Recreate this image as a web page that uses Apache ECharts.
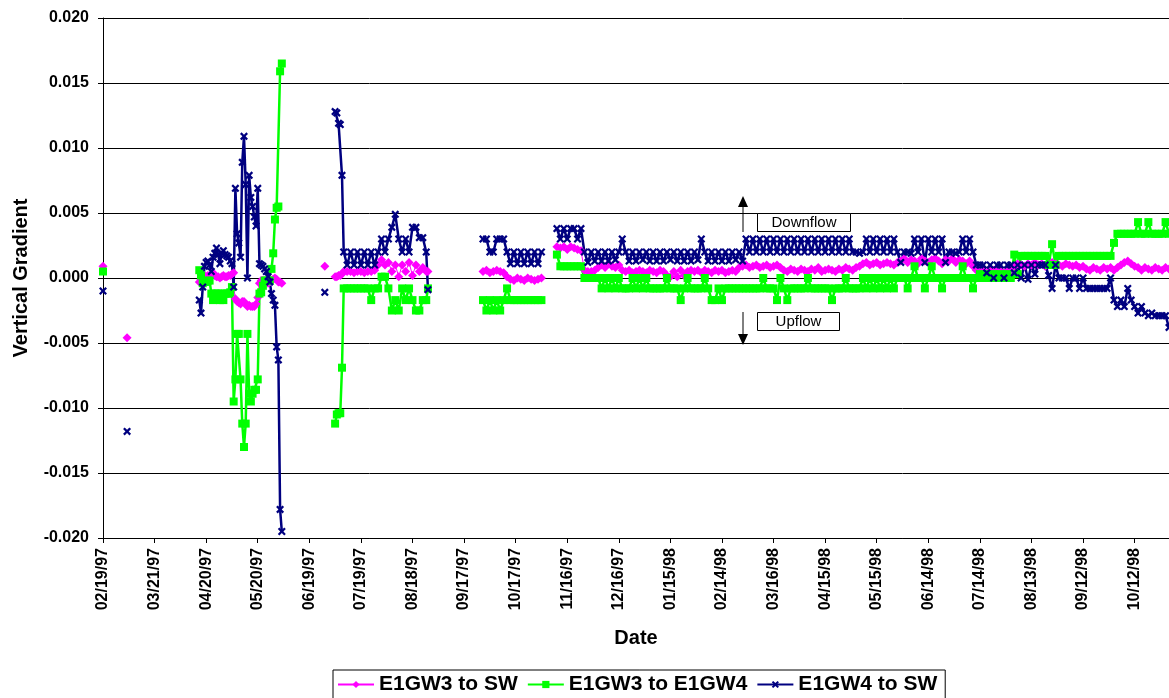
<!DOCTYPE html>
<html>
<head>
<meta charset="utf-8">
<script src="https://cdn.jsdelivr.net/npm/echarts@6/dist/echarts.min.js"></script>
<style>
html,body{margin:0;padding:0;background:#fff;}
#chart{width:1169px;height:698px;}
</style>
</head>
<body>
<div id="chart"></div>
<script>
// ---- Tick labels (every 30 days from 02/19/97) ----
const tickLabels = ['02/19/97','03/21/97','04/20/97','05/20/97','06/19/97','07/19/97','08/18/97',
  '09/17/97','10/17/97','11/16/97','12/16/97','01/15/98','02/14/98','03/16/98','04/15/98',
  '05/15/98','06/14/98','07/14/98','08/13/98','09/12/98','10/12/98'];

// x values are days since 02/19/97
// ---- Isolated early readings ----
const isoDays = [0, 14, 129];
const isoMag = [0.0009, -0.0046, 0.0009];
const isoGrn = [0.0005, null, null];
const isoNav = [-0.0010, -0.0118, -0.0011];

// ---- Period 1 (Apr-May 1997) ----
const r1Days = [56,57,58,59,60,61,62,63,64,65,66,67,68,69,70,71,72,73,74,75,76,77,78,79,80,
  81,82,83,84,85,86,87,88,89,90,91,92,93,94,95,96,97,98,99,100,101,102,103,104];
const r1Mag = [-.0003,-.0001,.0001,.0002,.0001,.0002,.0001,.0003,.0004,.0002,.0001,.0001,.0000,.0001,.0002,
  .0001,.0001,.0002,.0002,.0003,.0004,-.0016,-.0018,-.0019,-.0020,-.0018,-.0018,-.0020,-.0022,-.0021,
  -.0022,-.0022,-.0022,-.0020,-.0015,-.0004,-.0002,-.0002,-.0003,-.0002,-.0004,-.0003,-.0002,-.0001,.0000,
  -.0001,-.0003,-.0003,-.0004];
const r1Grn = [.0006,.0002,-.0004,-.0003,-.0003,-.0002,-.0002,-.0012,-.0017,-.0012,-.0012,-.0012,-.0017,-.0012,-.0017,
  -.0012,-.0012,-.0012,-.0011,-.0007,-.0095,-.0078,-.0043,-.0043,-.0078,-.0112,-.0130,-.0112,-.0043,-.0089,
  -.0095,-.0089,-.0086,-.0086,-.0078,-.0012,-.0011,-.0006,-.0002,-.0002,-.0002,-.0002,.0007,.0019,.0045,
  .0054,.0055,.0159,.0165];
const r1Nav = [-.0017,-.0027,-.0007,.0009,.0012,.0013,.0010,.0005,.0016,.0019,.0023,.0018,.0011,.0019,.0021,
  .0018,.0017,.0016,.0013,.0011,-.0007,.0069,.0034,.0027,.0016,.0089,.0109,.0072,.0000,.0079,
  .0062,.0055,.0047,.0040,.0069,.0011,.0010,.0009,.0007,.0005,.0001,-.0003,-.0012,-.0017,-.0021,
  -.0053,-.0063,-.0178,-.0195];

// ---- Period 2 (Jul-Aug 1997) ----
const r2Days = [135,136,137,138,139,140,142,144,146,148,150,152,154,156,158,160,162,164,166,168,
  170,172,174,176,178,180,182,184,186,188,189];
const r2Mag = [.0001,.0001,.0002,.0002,.0003,.0005,.0005,.0005,.0004,.0005,.0005,.0004,.0005,.0005,.0006,
  .0010,.0014,.0010,.0012,.0005,.0010,.0001,.0010,.0005,.0012,.0002,.0010,.0005,.0008,.0005,.0005];
const r2Grn = [-.0112,-.0105,-.0104,-.0104,-.0069,-.0008,-.0008,-.0008,-.0008,-.0008,-.0008,-.0008,-.0008,-.0017,-.0008,
  -.0008,.0001,.0001,-.0008,-.0025,-.0017,-.0025,-.0008,-.0017,-.0008,-.0017,-.0025,-.0025,-.0017,-.0017,-.0008];
const r2Nav = [.0128,.0127,.0119,.0118,.0079,.0020,.0010,.0020,.0010,.0020,.0010,.0020,.0010,.0020,.0010,
  .0020,.0030,.0020,.0030,.0039,.0049,.0030,.0020,.0030,.0020,.0039,.0039,.0031,.0031,.0020,-.0009];

// ---- Period 3 (Sep-Oct 1997) ----
const r3Days = [221,223,225,227,229,231,233,235,237,239,241,243,245,247,249,251,253,255];
const r3Mag = [.0005,.0006,.0004,.0005,.0006,.0005,.0004,.0001,-.0001,-.0002,.0000,-.0001,-.0002,.0000,-.0001,-.0002,-.0001,.0000];
const r3Grn = [-.0017,-.0025,-.0017,-.0025,-.0017,-.0025,-.0017,-.0008,-.0017,-.0017,-.0017,-.0017,-.0017,-.0017,-.0017,-.0017,-.0017,-.0017];
const r3Nav = [.0030,.0030,.0020,.0020,.0030,.0030,.0030,.0020,.0011,.0020,.0011,.0020,.0011,.0020,.0011,.0020,.0011,.0020];

// ---- Period 4 (Nov 1997 - Oct 1998) ----
const r4Days = [264,266,268,270,272,274,276,278,280,282, 284,286,288,290,292,294,296,298,300,302,
  304,306,308,310,312,314,316,318,320,322, 324,326,328,330,332,334,336,338,340,342,
  344,346,348,350,352,354,356,358,360,362, 364,366,368,370,372,374,376,378,380,382,
  384,386,388,390,392,394,396,398,400,402, 404,406,408,410,412,414,416,418,420,422,
  424,426,428,430,432,434,436,438,440,442, 444,446,448,450,452,454,456,458,460,462,
  464,466,468,470,472,474,476,478,480,482, 484,486,488,490,492,494,496,498,500,502,
  504,506,508,510,512,514,516,518,520,522, 524,526,528,530,532,534,536,538,540,542,
  544,546,548,550,552,554,556,558,560,562, 564,566,568,570,572,574,576,578,580,582,
  584,586,588,590,592,594,596,598,600,602, 604,606,608,610,612,614,616,618,620];
const r4Mag = [
  .0024,.0023,.0024,.0022,.0024,.0023,.0022,.0021,.0006,.0005,
  .0005,.0006,.0008,.0010,.0008,.0011,.0009,.0008,.0010,.0006,
  .0005,.0006,.0004,.0005,.0006,.0005,.0004,.0006,.0005,.0004,
  .0006,.0005,.0002,.0001,.0005,.0001,.0006,.0002,.0005,.0006,
  .0005,.0006,.0004,.0006,.0005,.0004,.0006,.0005,.0006,.0004,
  .0005,.0006,.0005,.0008,.0009,.0010,.0008,.0009,.0010,.0008,
  .0009,.0010,.0008,.0009,.0010,.0008,.0006,.0005,.0007,.0006,
  .0005,.0007,.0006,.0005,.0007,.0006,.0008,.0005,.0006,.0007,
  .0006,.0005,.0007,.0006,.0008,.0007,.0006,.0008,.0009,.0011,
  .0012,.0010,.0011,.0012,.0010,.0011,.0012,.0011,.0010,.0012,
  .0013,.0015,.0012,.0014,.0013,.0011,.0015,.0013,.0012,.0014,
  .0015,.0013,.0011,.0014,.0013,.0015,.0012,.0014,.0013,.0011,
  .0013,.0009,.0006,.0005,.0005,.0004,.0005,.0006,.0005,.0005,
  .0004,.0005,.0006,.0009,.0011,.0010,.0009,.0011,.0010,.0012,
  .0010,.0011,.0009,.0010,.0012,.0011,.0010,.0009,.0011,.0010,
  .0009,.0010,.0008,.0009,.0007,.0006,.0008,.0007,.0006,.0008,
  .0007,.0008,.0006,.0008,.0010,.0012,.0013,.0011,.0009,.0008,
  .0006,.0008,.0007,.0006,.0008,.0007,.0006,.0008,.0007];
const r4Grn = [
  .0018,.0009,.0009,.0009,.0009,.0009,.0009,.0009,.0000,.0000,
  .0000,.0000,.0000,-.0008,.0000,-.0008,.0000,-.0008,.0000,-.0008,
  -.0008,-.0008,.0000,-.0008,.0000,-.0008,.0000,-.0008,-.0008,-.0008,
  -.0008,-.0008,.0000,-.0008,-.0008,-.0008,-.0017,-.0008,.0000,-.0008,
  -.0008,-.0008,-.0008,.0000,-.0008,-.0017,-.0017,-.0008,-.0017,-.0008,
  -.0008,-.0008,-.0008,-.0008,-.0008,-.0008,-.0008,-.0008,-.0008,-.0008,
  .0000,-.0008,-.0008,-.0008,-.0017,.0000,-.0008,-.0017,-.0008,-.0008,
  -.0008,-.0008,-.0008,.0000,-.0008,-.0008,-.0008,-.0008,-.0008,-.0008,
  -.0017,-.0008,-.0008,-.0008,.0000,-.0008,-.0008,-.0008,-.0008,.0000,
  -.0008,.0000,-.0008,.0000,-.0008,.0000,-.0008,.0000,-.0008,.0000,
  .0000,.0000,-.0008,.0000,.0009,.0000,.0000,-.0008,.0000,.0009,
  .0000,.0000,-.0008,.0000,.0000,.0000,.0000,.0000,.0009,.0000,
  .0000,-.0008,.0000,.0003,.0000,.0003,.0000,.0003,.0000,.0003,
  .0000,.0003,.0000,.0018,.0003,.0017,.0017,.0017,.0017,.0017,
  .0017,.0017,.0017,.0010,.0026,.0010,.0017,.0017,.0017,.0017,
  .0017,.0017,.0017,.0017,.0017,.0017,.0017,.0017,.0017,.0017,
  .0017,.0017,.0027,.0034,.0034,.0034,.0034,.0034,.0034,.0043,
  .0034,.0034,.0043,.0034,.0034,.0034,.0034,.0043,.0034];
const r4Nav = [
  .0038,.0030,.0038,.0030,.0038,.0038,.0030,.0038,.0020,.0012,
  .0020,.0013,.0020,.0013,.0020,.0013,.0020,.0014,.0020,.0030,
  .0020,.0013,.0020,.0013,.0020,.0014,.0020,.0013,.0020,.0013,
  .0020,.0013,.0020,.0014,.0020,.0013,.0020,.0013,.0020,.0013,
  .0020,.0014,.0030,.0020,.0013,.0020,.0013,.0020,.0013,.0020,
  .0013,.0020,.0014,.0020,.0013,.0030,.0020,.0030,.0020,.0030,
  .0020,.0030,.0020,.0030,.0020,.0030,.0020,.0030,.0020,.0030,
  .0020,.0030,.0020,.0030,.0020,.0030,.0020,.0030,.0020,.0030,
  .0020,.0030,.0020,.0030,.0020,.0030,.0020,.0020,.0019,.0020,
  .0030,.0020,.0030,.0020,.0030,.0020,.0030,.0020,.0030,.0020,
  .0012,.0020,.0020,.0019,.0030,.0020,.0030,.0012,.0030,.0020,
  .0030,.0020,.0030,.0012,.0020,.0020,.0019,.0020,.0030,.0020,
  .0030,.0020,.0010,.0010,.0010,.0004,.0010,.0000,.0010,.0010,
  .0000,.0010,.0010,.0004,.0010,.0000,.0010,-.0001,.0010,.0003,
  .0010,.0010,.0010,.0002,-.0008,.0010,.0000,.0000,.0000,-.0008,
  .0000,.0000,-.0008,.0000,-.0008,-.0008,-.0008,-.0008,-.0008,-.0008,
  -.0008,.0000,-.0017,-.0022,-.0017,-.0022,-.0008,-.0017,-.0022,-.0027,
  -.0022,-.0027,-.0029,-.0027,-.0029,-.0029,-.0029,-.0029,-.0038];

// Build [day, value] pairs; a '-' entry between periods breaks the line
function build(parts) {
  const out = [];
  parts.forEach((p, k) => {
    if (k > 0) out.push([p[0][0] - 1, '-']);
    p[0].forEach((d, i) => out.push([d, p[1][i] == null ? '-' : p[1][i]]));
  });
  return out;
}
const magData = build([[[isoDays[0]],[isoMag[0]]],[[isoDays[1]],[isoMag[1]]],[r1Days,r1Mag],
  [[isoDays[2]],[isoMag[2]]],[r2Days,r2Mag],[r3Days,r3Mag],[r4Days,r4Mag]]);
const grnData = build([[[isoDays[0]],[isoGrn[0]]],[[isoDays[1]],[isoGrn[1]]],[r1Days,r1Grn],
  [[isoDays[2]],[isoGrn[2]]],[r2Days,r2Grn],[r3Days,r3Grn],[r4Days,r4Grn]]);
const navData = build([[[isoDays[0]],[isoNav[0]]],[[isoDays[1]],[isoNav[1]]],[r1Days,r1Nav],
  [[isoDays[2]],[isoNav[2]]],[r2Days,r2Nav],[r3Days,r3Nav],[r4Days,r4Nav]]);

const FONT = '"Liberation Sans", Arial, sans-serif';
const xMark = 'path://M0,2 L2,0 L5,3 L8,0 L10,2 L7,5 L10,8 L8,10 L5,7 L2,10 L0,8 L3,5 Z';

const chart = echarts.init(document.getElementById('chart'), null, {renderer: 'canvas'});
chart.setOption({
  animation: false,
  backgroundColor: '#ffffff',
  grid: {left: 103, right: 0, top: 18, bottom: 160, containLabel: false},
  xAxis: {
    type: 'value', min: 0, max: 620, interval: 30,
    name: 'Date', nameLocation: 'middle', nameGap: 90,
    nameTextStyle: {fontSize: 20, fontWeight: 'bold', color: '#000', fontFamily: FONT},
    axisLine: {show: true, onZero: false, lineStyle: {color: '#000', width: 1}},
    axisTick: {show: true, length: 5, lineStyle: {color: '#000'}},
    axisLabel: {
      rotate: 90, margin: 10, fontSize: 16, fontWeight: 'bold', color: '#000', fontFamily: FONT,
      showMaxLabel: false,
      formatter: v => (v % 30 === 0 && v / 30 < tickLabels.length) ? tickLabels[v / 30] : ''
    },
    splitLine: {show: false}
  },
  yAxis: {
    type: 'value', min: -0.02, max: 0.02, interval: 0.005,
    name: 'Vertical Gradient', nameLocation: 'middle', nameGap: 72, nameRotate: 90,
    nameTextStyle: {fontSize: 20, fontWeight: 'bold', color: '#000', fontFamily: FONT},
    axisLine: {show: true, lineStyle: {color: '#000', width: 1}},
    axisTick: {show: true, length: 5, lineStyle: {color: '#000'}},
    axisLabel: {
      margin: 14, fontSize: 16, fontWeight: 'bold', color: '#000', fontFamily: FONT,
      formatter: v => { const s = v.toFixed(3); return s === '-0.000' ? '0.000' : s; }
    },
    splitLine: {show: true, lineStyle: {color: '#000', width: 1}}
  },
  legend: {
    top: 670, left: 333,
    borderColor: '#000', borderWidth: 1, padding: [4, 8, 6, 4],
    itemGap: 9, itemWidth: 36, itemHeight: 9,
    textStyle: {fontSize: 21, fontWeight: 'bold', color: '#000', fontFamily: FONT},
    data: ['E1GW3 to SW', 'E1GW3 to E1GW4', 'E1GW4 to SW']
  },
  series: [
    {
      name: 'E1GW3 to SW', type: 'line', data: magData, connectNulls: false,
      symbol: 'diamond', symbolSize: 9,
      lineStyle: {color: '#FF00FF', width: 1},
      itemStyle: {color: '#FF00FF'}
    },
    {
      name: 'E1GW3 to E1GW4', type: 'line', data: grnData, connectNulls: false,
      symbol: 'rect', symbolSize: 8,
      lineStyle: {color: '#00FF00', width: 2.5},
      itemStyle: {color: '#00FF00'}
    },
    {
      name: 'E1GW4 to SW', type: 'line', data: navData, connectNulls: false,
      symbol: xMark, symbolSize: 8,
      lineStyle: {color: '#000080', width: 2.5},
      itemStyle: {color: '#000080'}
    }
  ],
  graphic: [
    {type: 'line', shape: {x1: 743, y1: 232, x2: 743, y2: 205}, style: {stroke: '#000', lineWidth: 1}, z: 100},
    {type: 'polygon', shape: {points: [[743, 196], [738, 207], [748, 207]]}, style: {fill: '#000'}, z: 100},
    {type: 'rect', shape: {x: 757.5, y: 213.5, width: 93, height: 18}, style: {fill: '#fff', stroke: '#000', lineWidth: 1}, z: 100},
    {type: 'text', x: 804, y: 223, style: {text: 'Downflow', fontSize: 15, fontFamily: FONT, fill: '#000', textAlign: 'center', textVerticalAlign: 'middle'}, z: 101},
    {type: 'line', shape: {x1: 743, y1: 312, x2: 743, y2: 336}, style: {stroke: '#000', lineWidth: 1}, z: 100},
    {type: 'polygon', shape: {points: [[743, 345], [738, 334], [748, 334]]}, style: {fill: '#000'}, z: 100},
    {type: 'rect', shape: {x: 757.5, y: 312.5, width: 82, height: 18}, style: {fill: '#fff', stroke: '#000', lineWidth: 1}, z: 100},
    {type: 'text', x: 798.5, y: 322, style: {text: 'Upflow', fontSize: 15, fontFamily: FONT, fill: '#000', textAlign: 'center', textVerticalAlign: 'middle'}, z: 101}
  ]
});
</script>
</body>
</html>
